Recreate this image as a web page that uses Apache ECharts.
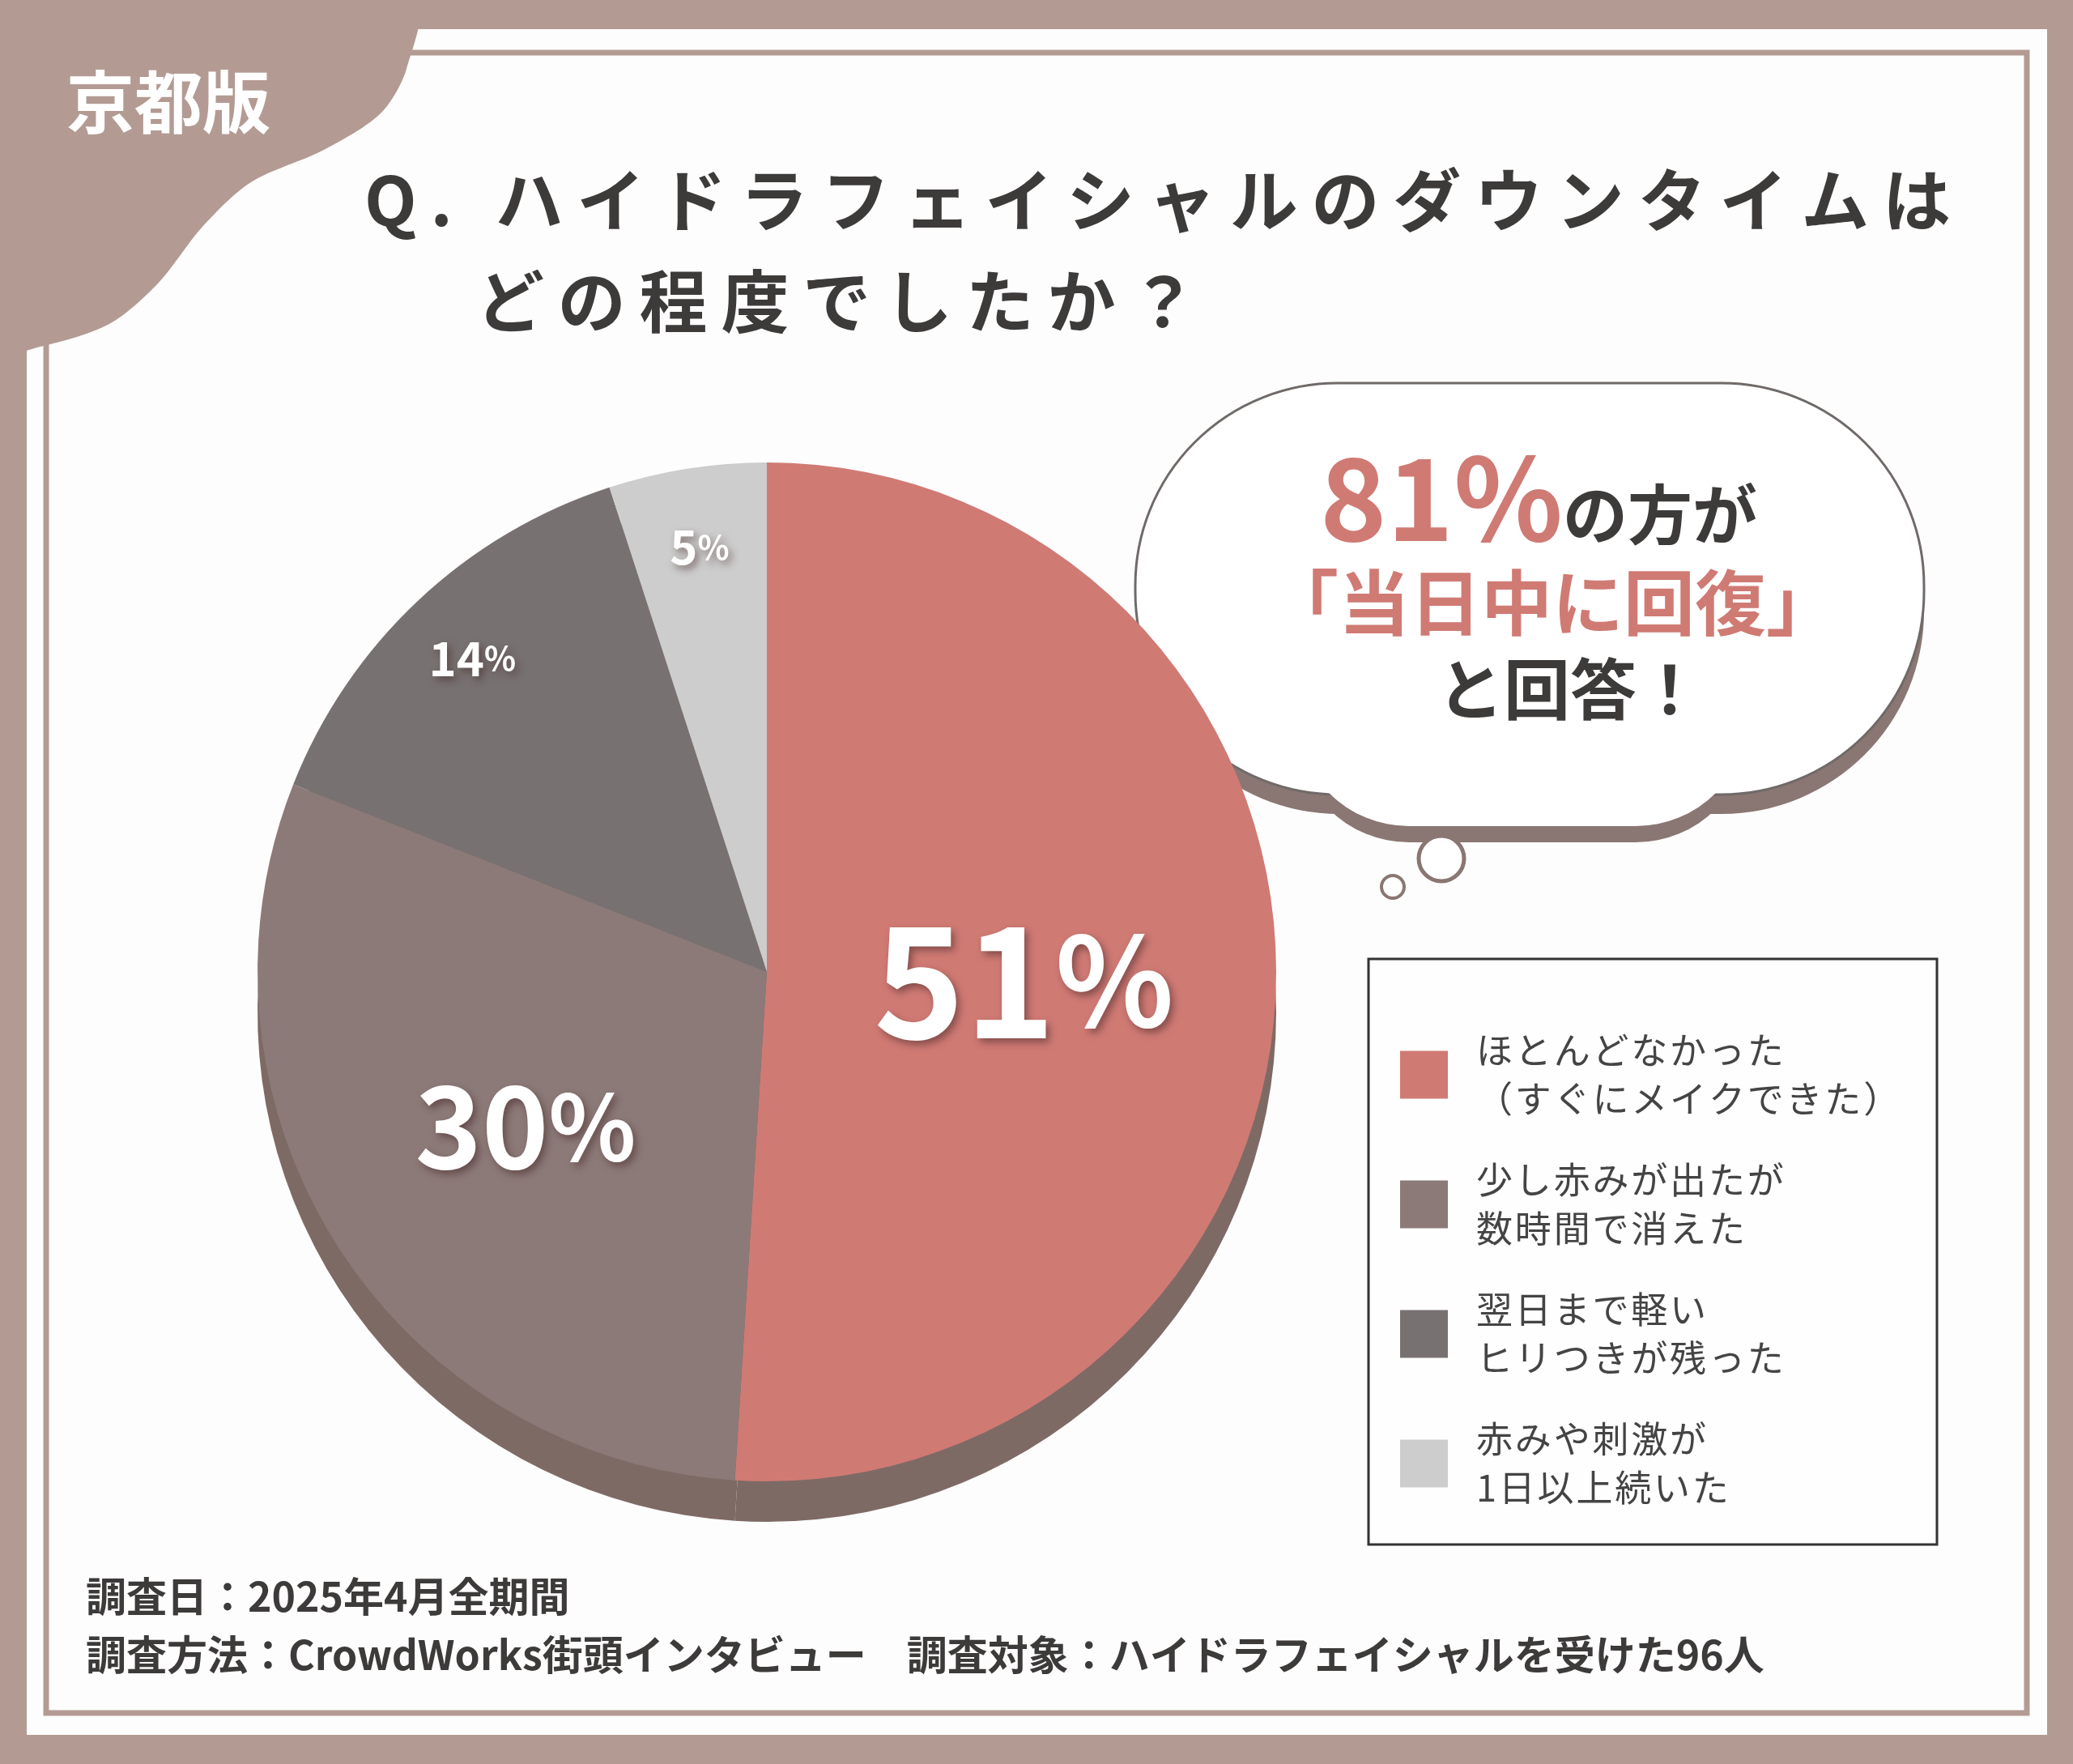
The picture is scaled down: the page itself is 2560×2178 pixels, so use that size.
<!DOCTYPE html>
<html><head><meta charset="utf-8">
<script src="https://cdn.jsdelivr.net/npm/echarts@6/dist/echarts.min.js"></script>
<style>html,body{margin:0;padding:0;background:#b39b93}#c{width:2560px;height:2178px}</style>
</head><body><div id="c"></div>
<script>
var categories = ['ほとんどなかった\n（すぐにメイクできた）', '少し赤みが出たが\n数時間で消えた', '翌日まで軽い\nヒリつきが残った', '赤みや刺激が\n1日以上続いた'];
var values = [51, 30, 14, 5];
var colors = ['#d07a74', '#8c7a78', '#787171', '#cdcdcd'];
var labelSizes = [190, 140, 58, 58];

var F = '"Noto Sans CJK JP", sans-serif';
var chart = echarts.init(document.getElementById('c'));
var cx = 947, cy = 1200, R = 629;

// widen text like the original's letter spacing
function spaced(s, sp) {
    return s.split('\n').map(function (line) { return line.split('').join(sp); }).join('\n');
}

var shadowStyle = {color: 'rgba(70,40,40,0.55)', blur: 10, ox: 4, oy: 5};
function pieLabel(i, show) {
    return {
        show: show, position: 'inside', formatter: '{d|' + values[i] + '}{p|%}',
        rich: {
            d: {fontFamily: F, fontWeight: 'bold', fontSize: labelSizes[i], color: '#fff',
                textShadowColor: shadowStyle.color, textShadowBlur: shadowStyle.blur, textShadowOffsetX: shadowStyle.ox, textShadowOffsetY: shadowStyle.oy},
            p: {fontFamily: F, fontWeight: 'bold', fontSize: labelSizes[i] * (i < 2 ? 0.8 : 0.7), color: '#fff',
                textShadowColor: shadowStyle.color, textShadowBlur: shadowStyle.blur, textShadowOffsetX: shadowStyle.ox, textShadowOffsetY: shadowStyle.oy}
        }
    };
}

var mainData = values.map(function (v, i) {
    var lab = pieLabel(i, i < 2);
    if (i === 1) lab.offset = [-30, 20];
    return {name: categories[i], value: v, itemStyle: {color: colors[i]}, label: lab};
});
var outerData = values.map(function (v, i) {
    return {name: categories[i], value: v, itemStyle: {color: 'rgba(0,0,0,0)'}, label: pieLabel(i, i >= 2)};
});
var shadowData = values.map(function (v, i) {
    return {name: 's' + i, value: v, itemStyle: {color: '#7e6a65'}};
});

chart.setOption({
    animation: false,
    backgroundColor: '#b39b93',
    legend: {
        data: categories, orient: 'vertical', left: 1724, top: 1262,
        itemWidth: 59, itemHeight: 59, itemGap: 40, icon: 'rect',
        formatter: function (n) { return spaced(n, '\u200A'); },
        textStyle: {fontFamily: F, fontSize: 45, color: '#444', lineHeight: 60, padding: [0, 0, 0, 30]}
    },
    graphic: [
        {type: 'rect', z: -10, shape: {x: 33, y: 36, width: 2495, height: 2106}, style: {fill: '#fdfdfd'}},
        {type: 'rect', z: -9, shape: {x: 57, y: 65, width: 2446, height: 2050}, style: {fill: 'none', stroke: '#b39b93', lineWidth: 7}},
        {type: 'polygon', z: -8, shape: {points: [[0, 0], [510, 0], [502, 85], [470, 140], [400, 185], [310, 225], [250, 280], [195, 350], [135, 400], [50, 428], [0, 432]], smooth: 0.3}, style: {fill: '#b39b93'}},
        {type: 'text', left: 82, top: 84, style: {text: '京都版', fill: '#fff', font: 'bold 84px ' + F}},
        {type: 'text', left: 450, top: 205, style: {text: spaced('Q. ハイドラフェイシャルのダウンタイムは', '\u2009'), fill: '#3d3a3a', font: 'bold 84px ' + F}},
        {type: 'text', left: 588, top: 330, style: {text: spaced('どの程度でしたか？', '\u2009'), fill: '#3d3a3a', font: 'bold 84px ' + F}},
        // thought bubble
        {type: 'rect', z: 1, shape: {x: 1404, y: 497, width: 972, height: 508, r: 250}, style: {fill: '#8a7672'}},
        {type: 'rect', z: 1, shape: {x: 1600, y: 740, width: 560, height: 300, r: 140}, style: {fill: '#8a7672'}},
        {type: 'rect', z: 2, shape: {x: 1402, y: 473, width: 974, height: 508, r: 250}, style: {fill: '#fff', stroke: '#6f6a68', lineWidth: 3}},
        {type: 'rect', z: 2, shape: {x: 1600, y: 720, width: 560, height: 300, r: 140}, style: {fill: '#fff'}},
        {type: 'circle', z: 2, shape: {cx: 1780, cy: 1060, r: 28}, style: {fill: '#fff', stroke: '#8a7672', lineWidth: 5}},
        {type: 'circle', z: 2, shape: {cx: 1720, cy: 1095, r: 14}, style: {fill: '#fff', stroke: '#8a7672', lineWidth: 4}},
        {type: 'text', z: 3, left: 1630, top: 545, style: {
            text: '{a|81%}{b|の方が}', rich: {
                a: {fill: '#d07a74', font: 'bold 140px ' + F},
                b: {fill: '#3d3a3a', font: 'bold 80px ' + F, padding: [40, 0, 0, 0]}
            }}},
        {type: 'text', z: 3, left: 1565, top: 700, style: {text: '「当日中に回復」', fill: '#d07a74', font: 'bold 88px ' + F}},
        {type: 'text', z: 3, left: 1775, top: 810, style: {text: 'と回答！', fill: '#3d3a3a', font: 'bold 82px ' + F}},
        // legend box
        {type: 'rect', shape: {x: 1690, y: 1184, width: 702, height: 723}, style: {fill: 'rgba(255,255,255,0.6)', stroke: '#333', lineWidth: 3}, z: -1},
        {type: 'text', left: 106, top: 1946, style: {text: '調査日：2025年4月全期間', fill: '#3d3a3a', font: 'bold 50px ' + F}},
        {type: 'text', left: 106, top: 2018, style: {text: '調査方法：CrowdWorks街頭インタビュー　調査対象：ハイドラフェイシャルを受けた96人', fill: '#3d3a3a', font: 'bold 50px ' + F}}
    ],
    series: [
        {type: 'pie', silent: true, center: [cx, cy + 50], radius: [0, R], startAngle: 90, label: {show: false}, labelLine: {show: false}, data: shadowData, z: 1},
        {type: 'pie', silent: true, center: [cx, cy], radius: [0, R], startAngle: 90, labelLine: {show: false}, data: mainData, z: 2},
        {type: 'pie', silent: true, center: [cx, cy], radius: [0, R * 1.68], startAngle: 90, labelLine: {show: false}, data: outerData, z: 3}
    ]
});
</script></body></html>
